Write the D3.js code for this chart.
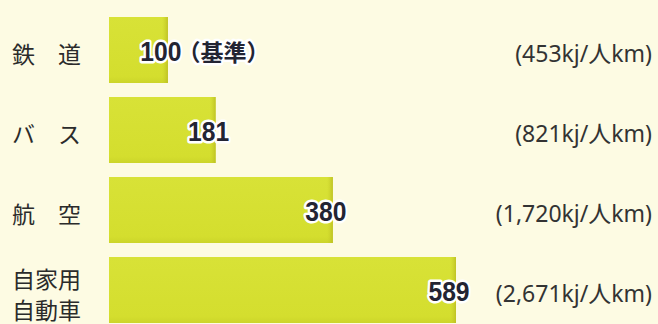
<!DOCTYPE html>
<html><head><meta charset="utf-8">
<script src="https://cdn.jsdelivr.net/npm/d3@7/dist/d3.min.js"></script>
<style>
html,body{margin:0;padding:0;background:#fdfbe3;}
svg{display:block;}
</style></head>
<body>
<svg id="chart" width="658" height="324"></svg>
<script>
const categories = [["鉄　道"], ["バ　ス"], ["航　空"], ["自家用", "自動車"]];
const values = [100, 181, 380, 589];
const valueSuffix = ["（基準）", "", "", ""];
const unitLabels = ["(453kj/人km)", "(821kj/人km)", "(1,720kj/人km)", "(2,671kj/人km)"];

const W = 658, H = 324;
const svg = d3.select("#chart");
svg.append("rect").attr("width", W).attr("height", H).attr("fill", "#fdfbe3");

const defs = svg.append("defs");
const grad = defs.append("linearGradient").attr("id", "barGrad")
  .attr("x1", "0").attr("x2", "0").attr("y1", "0").attr("y2", "1");
grad.append("stop").attr("offset", "0%").attr("stop-color", "#d8e237");
grad.append("stop").attr("offset", "90%").attr("stop-color", "#d4de2e");
grad.append("stop").attr("offset", "100%").attr("stop-color", "#ccd52a");
const edge = defs.append("linearGradient").attr("id", "edgeGrad")
  .attr("x1", "0").attr("x2", "1").attr("y1", "0").attr("y2", "0");
edge.append("stop").attr("offset", "0%").attr("stop-color", "#c9d02a").attr("stop-opacity", 0);
edge.append("stop").attr("offset", "100%").attr("stop-color", "#b9bb20").attr("stop-opacity", 0.8);

const idx = d3.range(values.length);
const x = d3.scaleLinear().domain([0, d3.max(values)]).range([109, 456]);
const y = d3.scaleBand().domain(idx).range([17, 323]).paddingInner(0.175).paddingOuter(0);

const g = svg.append("g");
g.selectAll("rect.bar").data(idx).join("rect").attr("class", "bar")
  .attr("x", x(0)).attr("y", i => y(i))
  .attr("width", i => x(values[i]) - x(0)).attr("height", y.bandwidth())
  .attr("fill", "url(#barGrad)");
g.selectAll("rect.edge").data(idx).join("rect").attr("class", "edge")
  .attr("x", i => x(values[i]) - 6).attr("y", i => y(i))
  .attr("width", 6).attr("height", y.bandwidth())
  .attr("fill", "url(#edgeGrad)");

// category labels
const catG = svg.append("g");
idx.forEach(i => {
  const lines = categories[i];
  const cy = y(i) + y.bandwidth() / 2 + 3;
  const lh = 31;
  lines.forEach((t, k) => {
    catG.append("text")
      .attr("x", 12)
      .attr("y", cy + (k - (lines.length - 1) / 2) * lh)
      .attr("dominant-baseline", "central")
      .attr("font-family", "'Noto Sans CJK JP', sans-serif")
      .attr("font-size", 23)
      .attr("fill", "#2b2b2b")
      .text(t);
  });
});

// value labels
const sx = 0.88;
idx.forEach(i => {
  const cx = x(values[i]) - 7;
  const cy = y(i) + y.bandwidth() / 2 + 1;
  const grp = svg.append("g");
  const num = grp.append("text")
    .attr("transform", `translate(${cx},${cy}) scale(${sx},1)`)
    .attr("text-anchor", "middle")
    .attr("dominant-baseline", "central")
    .attr("font-family", "'Liberation Sans', Arial, sans-serif")
    .attr("font-weight", "bold")
    .attr("font-size", 28)
    .attr("fill", "#232433")
    .attr("stroke", "#ffffff").attr("stroke-width", 5)
    .attr("stroke-linejoin", "round").attr("paint-order", "stroke")
    .text(values[i]);
  if (valueSuffix[i]) {
    const wNum = num.node().getComputedTextLength() * sx;
    grp.append("text")
      .attr("x", cx + wNum / 2 - 4)
      .attr("y", cy)
      .attr("dominant-baseline", "central")
      .attr("font-family", "'Noto Sans CJK JP', sans-serif")
      .attr("font-weight", "bold")
      .attr("font-size", 23)
      .attr("fill", "#232433")
      .attr("stroke", "#ffffff").attr("stroke-width", 5)
      .attr("stroke-linejoin", "round").attr("paint-order", "stroke")
      .text(valueSuffix[i]);
  }
});

// unit labels
svg.append("g").selectAll("text").data(idx).join("text")
  .attr("x", 652)
  .attr("y", i => y(i) + y.bandwidth() / 2 + 3)
  .attr("text-anchor", "end")
  .attr("dominant-baseline", "central")
  .attr("font-family", "'Noto Sans', 'Noto Sans CJK JP', sans-serif")
  .attr("font-size", 23)
  .attr("font-weight", 400)
  .attr("fill", "#333333")
  .text(i => unitLabels[i]);
</script>
</body></html>
